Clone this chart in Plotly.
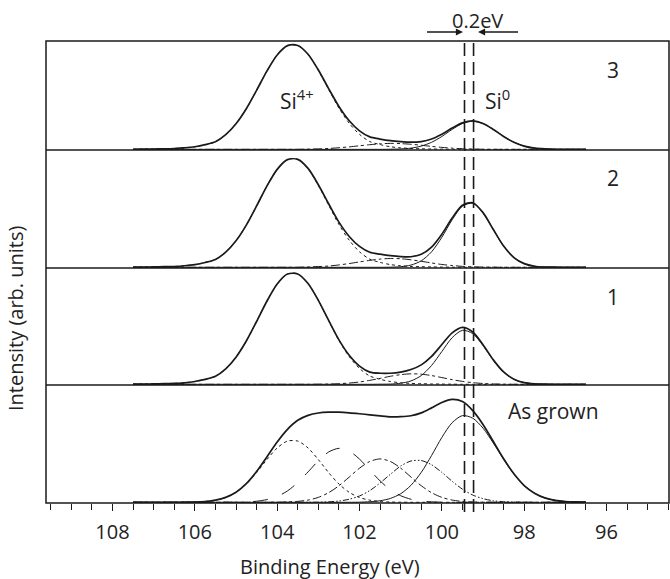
import plotly.graph_objects as go

# ---------------- data ----------------
energy_eV = [107.5, 107.25, 107.0, 106.75, 106.5, 106.25, 106.0, 105.75, 105.5, 105.25,
             105.0, 104.75, 104.5, 104.25, 104.0, 103.75, 103.5, 103.25, 103.0, 102.75,
             102.5, 102.25, 102.0, 101.75, 101.5, 101.25, 101.0, 100.75, 100.5, 100.25,
             100.0, 99.75, 99.5, 99.25, 99.0, 98.75, 98.5, 98.25, 98.0, 97.75,
             97.5, 97.25, 97.0, 96.75, 96.5]

# As grown
ag_envelope = [0, 0, 0, 0, 0, 0.001, 0.002, 0.007, 0.018, 0.042,
               0.086, 0.159, 0.262, 0.387, 0.514, 0.622, 0.699, 0.741, 0.761, 0.768,
               0.768, 0.763, 0.755, 0.746, 0.737, 0.729, 0.730, 0.738, 0.762, 0.805,
               0.851, 0.877, 0.859, 0.782, 0.664, 0.518, 0.371, 0.243, 0.143, 0.078,
               0.038, 0.017, 0.007, 0.003, 0.001]
ag_si4 = [0, 0, 0, 0, 0, 0.001, 0.002, 0.007, 0.018, 0.041,
          0.085, 0.156, 0.253, 0.364, 0.463, 0.522, 0.522, 0.463, 0.364, 0.253,
          0.156, 0.085, 0.041, 0.018, 0.007, 0.002, 0.001, 0, 0, 0,
          0, 0, 0, 0, 0, 0, 0, 0, 0, 0,
          0, 0, 0, 0, 0]
ag_si3 = [0, 0, 0, 0, 0, 0, 0, 0, 0, 0,
          0, 0.003, 0.009, 0.023, 0.050, 0.097, 0.169, 0.259, 0.354, 0.429,
          0.460, 0.437, 0.368, 0.275, 0.182, 0.107, 0.056, 0.026, 0.010, 0.004,
          0.001, 0, 0, 0, 0, 0, 0, 0, 0, 0,
          0, 0, 0, 0, 0]
ag_si2 = [0, 0, 0, 0, 0, 0, 0, 0, 0, 0,
          0, 0, 0, 0, 0.001, 0.003, 0.008, 0.019, 0.042, 0.082,
          0.141, 0.215, 0.291, 0.348, 0.370, 0.348, 0.291, 0.215, 0.141, 0.082,
          0.042, 0.019, 0.008, 0.003, 0.001, 0, 0, 0, 0, 0,
          0, 0, 0, 0, 0]
ag_si1 = [0, 0, 0, 0, 0, 0, 0, 0, 0, 0,
          0, 0, 0, 0, 0, 0, 0, 0, 0.001, 0.004,
          0.011, 0.026, 0.054, 0.100, 0.165, 0.239, 0.309, 0.352, 0.356, 0.320,
          0.255, 0.179, 0.112, 0.062, 0.031, 0.013, 0.005, 0.002, 0, 0,
          0, 0, 0, 0, 0]
ag_si0 = [0, 0, 0, 0, 0, 0, 0, 0, 0, 0,
          0, 0, 0, 0, 0, 0, 0, 0, 0, 0,
          0, 0, 0.001, 0.005, 0.013, 0.033, 0.073, 0.145, 0.255, 0.399,
          0.553, 0.679, 0.739, 0.717, 0.632, 0.505, 0.366, 0.241, 0.143, 0.078,
          0.038, 0.017, 0.007, 0.003, 0.001]

# Sample 1
p1_envelope = [0.001, 0.002, 0.003, 0.005, 0.008, 0.013, 0.024, 0.042, 0.069, 0.133,
               0.233, 0.372, 0.540, 0.714, 0.862, 0.948, 0.949, 0.867, 0.722, 0.549,
               0.382, 0.249, 0.156, 0.105, 0.095, 0.095, 0.105, 0.127, 0.167, 0.240,
               0.342, 0.442, 0.489, 0.450, 0.340, 0.210, 0.106, 0.044, 0.014, 0.004,
               0.001, 0, 0, 0, 0]
p1_si4 = [0.001, 0.002, 0.003, 0.005, 0.008, 0.013, 0.024, 0.042, 0.069, 0.133,
          0.233, 0.372, 0.540, 0.714, 0.862, 0.948, 0.949, 0.867, 0.721, 0.547,
          0.377, 0.238, 0.136, 0.071, 0.043, 0.024, 0.013, 0.008, 0.005, 0.003,
          0.002, 0.001, 0, 0, 0, 0, 0, 0, 0, 0,
          0, 0, 0, 0, 0]
p1_mid = [0, 0, 0, 0, 0, 0, 0, 0, 0, 0,
          0, 0, 0, 0, 0, 0, 0, 0, 0.001, 0.002,
          0.005, 0.011, 0.020, 0.034, 0.051, 0.069, 0.083, 0.090, 0.087, 0.075,
          0.058, 0.040, 0.025, 0.014, 0.007, 0.003, 0.001, 0, 0, 0,
          0, 0, 0, 0, 0]
p1_si0 = [0, 0, 0, 0, 0, 0, 0, 0, 0, 0,
          0, 0, 0, 0, 0, 0, 0, 0, 0, 0,
          0, 0, 0, 0, 0.001, 0.002, 0.009, 0.029, 0.075, 0.162,
          0.282, 0.401, 0.464, 0.436, 0.333, 0.207, 0.105, 0.044, 0.014, 0.004,
          0.001, 0, 0, 0, 0]

# Sample 2
p2_envelope = [0.001, 0.002, 0.003, 0.005, 0.007, 0.013, 0.023, 0.041, 0.067, 0.129,
               0.226, 0.360, 0.523, 0.692, 0.835, 0.918, 0.920, 0.843, 0.704, 0.542,
               0.385, 0.263, 0.178, 0.128, 0.112, 0.099, 0.091, 0.090, 0.111, 0.172,
               0.282, 0.420, 0.529, 0.550, 0.466, 0.322, 0.181, 0.083, 0.031, 0.009,
               0.002, 0.001, 0, 0, 0]
p2_si4 = [0.001, 0.002, 0.003, 0.005, 0.007, 0.013, 0.023, 0.041, 0.067, 0.129,
          0.226, 0.360, 0.523, 0.692, 0.835, 0.918, 0.920, 0.840, 0.698, 0.530,
          0.365, 0.231, 0.132, 0.069, 0.042, 0.023, 0.013, 0.007, 0.005, 0.003,
          0.002, 0.001, 0, 0, 0, 0, 0, 0, 0, 0,
          0, 0, 0, 0, 0]
p2_mid = [0, 0, 0, 0, 0, 0, 0, 0, 0, 0,
          0, 0, 0, 0, 0, 0, 0, 0.003, 0.006, 0.011,
          0.020, 0.032, 0.046, 0.059, 0.070, 0.075, 0.073, 0.064, 0.051, 0.037,
          0.024, 0.015, 0.008, 0.004, 0.002, 0.001, 0, 0, 0, 0,
          0, 0, 0, 0, 0]
p2_si0 = [0, 0, 0, 0, 0, 0, 0, 0, 0, 0,
          0, 0, 0, 0, 0, 0, 0, 0, 0, 0,
          0, 0, 0, 0, 0, 0.001, 0.005, 0.019, 0.055, 0.132,
          0.256, 0.405, 0.521, 0.546, 0.464, 0.322, 0.181, 0.083, 0.031, 0.009,
          0.002, 0.001, 0, 0, 0]

# Sample 3
p3_envelope = [0.001, 0.002, 0.003, 0.005, 0.008, 0.014, 0.024, 0.043, 0.070, 0.135,
               0.236, 0.375, 0.545, 0.722, 0.871, 0.957, 0.959, 0.878, 0.732, 0.561,
               0.396, 0.264, 0.171, 0.115, 0.095, 0.080, 0.071, 0.066, 0.072, 0.095,
               0.139, 0.196, 0.244, 0.263, 0.239, 0.184, 0.119, 0.065, 0.030, 0.011,
               0.004, 0.001, 0, 0, 0]
p3_si4 = [0.001, 0.002, 0.003, 0.005, 0.008, 0.014, 0.024, 0.043, 0.070, 0.135,
          0.236, 0.375, 0.545, 0.722, 0.871, 0.957, 0.959, 0.876, 0.728, 0.553,
          0.381, 0.241, 0.138, 0.072, 0.044, 0.024, 0.014, 0.008, 0.005, 0.003,
          0.002, 0.001, 0, 0, 0, 0, 0, 0, 0, 0,
          0, 0, 0, 0, 0]
p3_mid = [0, 0, 0, 0, 0, 0, 0, 0, 0, 0,
          0, 0, 0, 0, 0, 0, 0, 0.002, 0.004, 0.008,
          0.015, 0.023, 0.033, 0.043, 0.051, 0.055, 0.053, 0.047, 0.038, 0.027,
          0.018, 0.011, 0.006, 0.003, 0.001, 0, 0, 0, 0, 0,
          0, 0, 0, 0, 0]
p3_si0 = [0, 0, 0, 0, 0, 0, 0, 0, 0, 0,
          0, 0, 0, 0, 0, 0, 0, 0, 0, 0,
          0, 0, 0, 0, 0, 0.001, 0.004, 0.011, 0.030, 0.065,
          0.119, 0.184, 0.238, 0.260, 0.238, 0.184, 0.119, 0.065, 0.030, 0.011,
          0.004, 0.001, 0, 0, 0]

panel_labels = ["As grown", "1", "2", "3"]
tick_values = [108, 106, 104, 102, 100, 98, 96]
tick_labels = ["108", "106", "104", "102", "100", "98", "96"]
si0_lines_eV = [99.45, 99.23]

panels = [
    {"Si4+": ag_si4, "Si3+": ag_si3, "Si2+": ag_si2, "Si1+": ag_si1, "Si0": ag_si0, "env": ag_envelope},
    {"Si4+": p1_si4, "mid": p1_mid, "Si0": p1_si0, "env": p1_envelope},
    {"Si4+": p2_si4, "mid": p2_mid, "Si0": p2_si0, "env": p2_envelope},
    {"Si4+": p3_si4, "mid": p3_mid, "Si0": p3_si0, "env": p3_envelope},
]

# ---------------- styling ----------------
INK = "#1a1a1a"
styles = {
    "Si4+": dict(width=1.0, dash="dot"),
    "Si3+": dict(width=1.0, dash="longdash"),
    "Si2+": dict(width=1.0, dash="dashdot"),
    "Si1+": dict(width=1.0, dash="6px,2px,1.5px,2px,1.5px,2px"),
    "mid": dict(width=1.0, dash="dashdot"),
    "Si0": dict(width=1.0, dash="solid"),
    "env": dict(width=1.7, dash="solid"),
}

W, H = 670, 579
ML, MR, MT, MB = 46, 1, 41, 76
PW, PH = W - ML - MR, H - MT - MB
# panel separators (pixel rows from top)
bounds_px = [503, 385, 268, 150, 41]
domains = [((503 - bounds_px[i]) / PH, (503 - bounds_px[i + 1]) / PH) for i in range(4)]


def PX(x):
    return (x - ML) / PW


def PY(y):
    return (MT + PH - y) / PH


fig = go.Figure()
for k, curves in enumerate(panels):
    yname = "y" if k == 0 else f"y{k + 1}"
    for name, vals in curves.items():
        st = styles[name]
        fig.add_trace(go.Scatter(
            x=energy_eV, y=vals, xaxis="x", yaxis=yname, mode="lines",
            line=dict(color=INK, width=st["width"], dash=st["dash"], shape="spline", smoothing=0.8),
            hoverinfo="skip", showlegend=False))

layout = dict(
    width=W, height=H, autosize=False,
    margin=dict(l=ML, r=MR, t=MT, b=MB, pad=0),
    paper_bgcolor="white", plot_bgcolor="white",
    font=dict(family="Open Sans, Noto Sans, sans-serif", color="#222", size=20),
    showlegend=False,
    xaxis=dict(range=[109.615, 94.483], anchor="y", domain=[0, 1],
               tickmode="array", tickvals=tick_values, ticktext=tick_labels,
               ticks="outside", ticklen=7, tickwidth=1.2, tickcolor=INK,
               tickfont=dict(size=20, color="#222"), ticklabelstandoff=4,
               minor=dict(dtick=0.5, tick0=0, ticks="outside", ticklen=6, tickwidth=1.2, tickcolor=INK),
               showgrid=False, zeroline=False, showline=False),
)
for k in range(4):
    key = "yaxis" if k == 0 else f"yaxis{k + 1}"
    layout[key] = dict(domain=list(domains[k]), range=[-0.006, 1.0], anchor="x",
                       showticklabels=False, ticks="", showgrid=False, zeroline=False, showline=False)
fig.update_layout(**layout)

shapes = [dict(type="rect", xref="paper", yref="paper", x0=0, x1=1, y0=0, y1=1,
               line=dict(color=INK, width=1.5))]
for k in range(1, 4):
    shapes.append(dict(type="line", xref="paper", yref="paper", x0=0, x1=1,
                       y0=domains[k][0], y1=domains[k][0], line=dict(color=INK, width=1.5)))
for xv in si0_lines_eV:
    shapes.append(dict(type="line", xref="x", yref="paper", x0=xv, x1=xv, y0=PY(512), y1=1,
                       line=dict(color=INK, width=1.6, dash="13px,6px")))
fig.update_layout(shapes=shapes)

ann = []


def text(s, x, y, size=20, **kw):
    ann.append(dict(text=s, x=PX(x), y=PY(y), xref="paper", yref="paper", showarrow=False,
                    xanchor="center", yanchor="middle", font=dict(size=size, color="#222"), **kw))


text("Binding Energy (eV)", 330, 566, 20)
text("Intensity (arb. units)", 15, 318, 20, textangle=-90)
label_pos = [(553, 411), (613, 297), (613, 178), (613, 70)]
for lab, (x, y) in zip(panel_labels, label_pos):
    text(lab, x, y, 21)
text("Si<sup>4+</sup>", 297, 100, 21)
text("Si<sup>0</sup>", 497, 100, 21)
text("0.2eV", 477, 20, 20)
# arrows pointing at the two dashed lines
ann.append(dict(x=PX(463), y=PY(32), xref="paper", yref="paper", ax=-40, ay=0, text=" ",
                showarrow=True, arrowhead=2, arrowsize=1.1, arrowwidth=1.3, arrowcolor=INK))
ann.append(dict(x=PX(478), y=PY(32), xref="paper", yref="paper", ax=44, ay=0, text=" ",
                showarrow=True, arrowhead=2, arrowsize=1.1, arrowwidth=1.3, arrowcolor=INK))
fig.update_layout(annotations=ann)

fig.write_html("out.html")
